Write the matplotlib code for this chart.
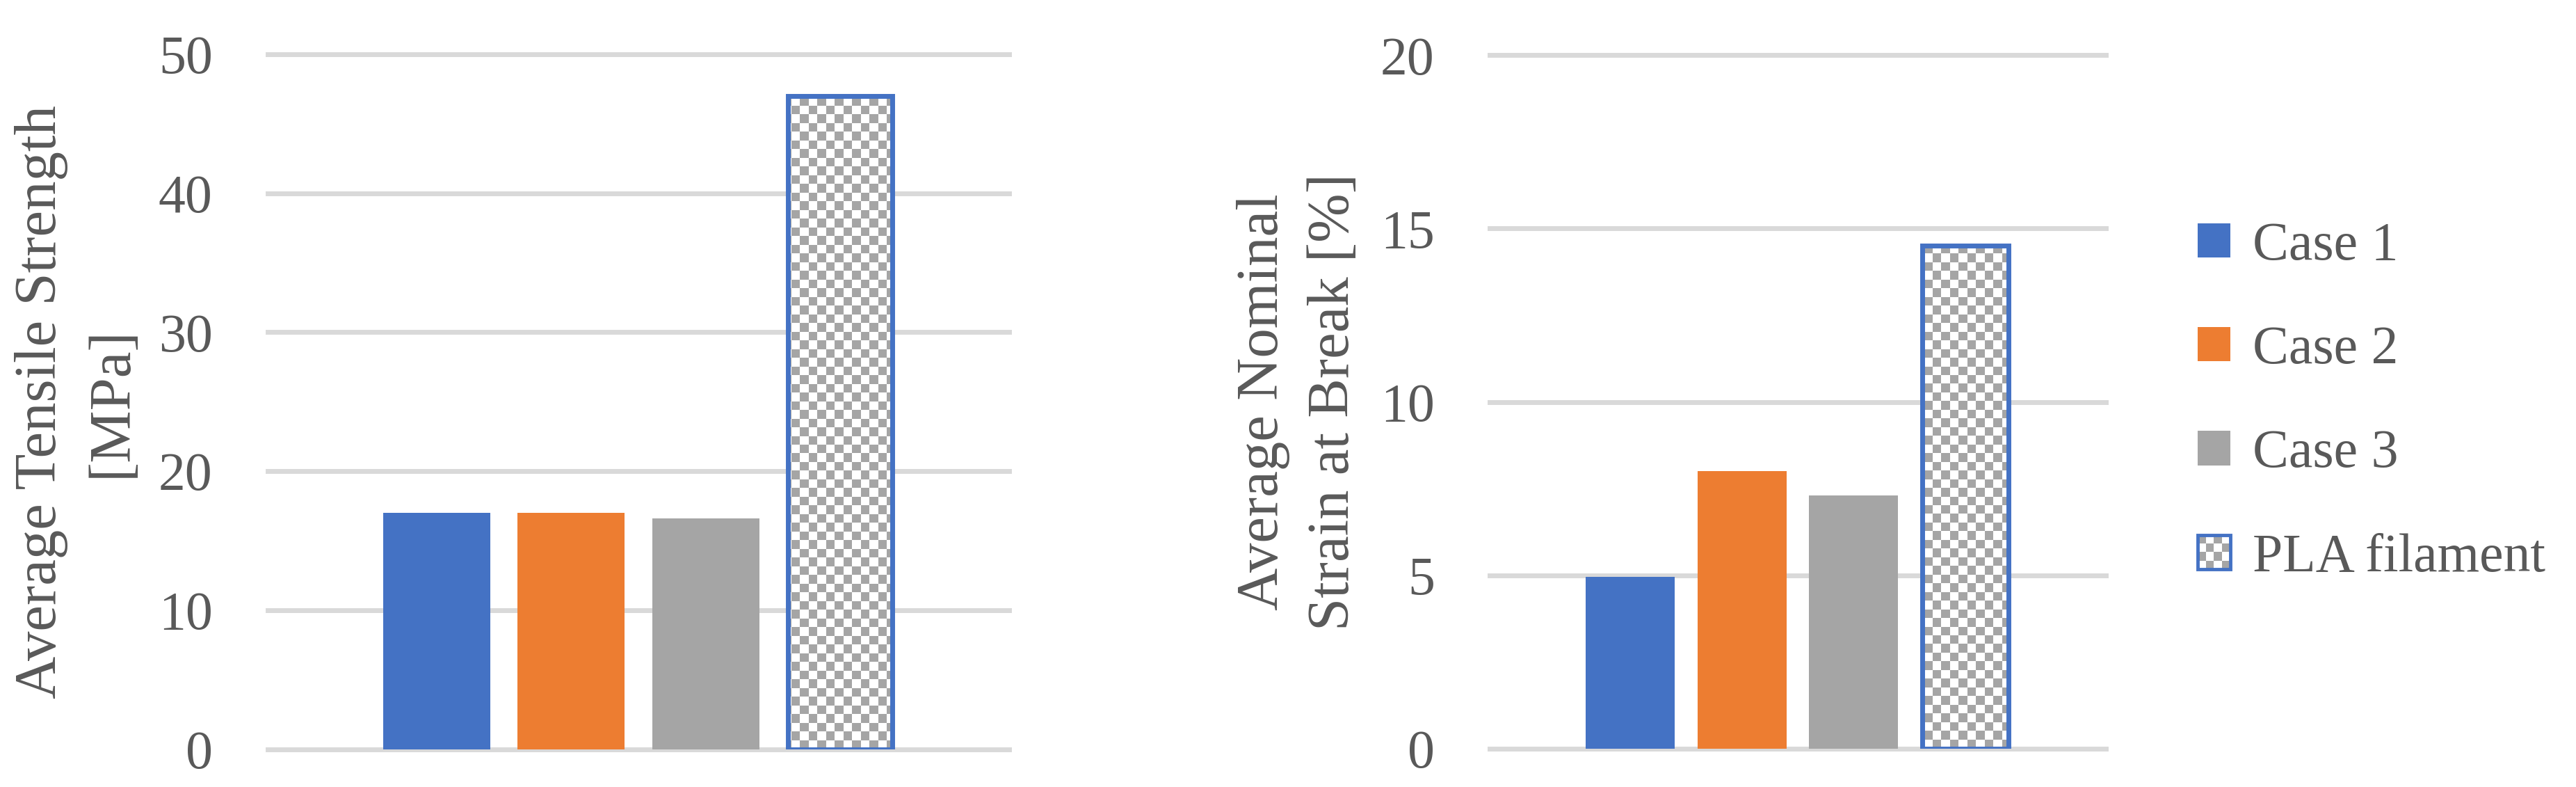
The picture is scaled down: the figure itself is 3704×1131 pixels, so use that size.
import numpy as np
import matplotlib
matplotlib.use("Agg")
import matplotlib.pyplot as plt
from matplotlib.patches import Patch, Rectangle
from matplotlib.colors import ListedColormap
from matplotlib.legend_handler import HandlerBase

# ---------------- data ----------------
series = ["Case 1", "Case 2", "Case 3", "PLA filament"]
tensile_strength = [17.0, 17.0, 16.6, 47.0]     # MPa
strain_at_break = [4.95, 8.0, 7.3, 14.5]        # %
tensile_ticks = [0, 10, 20, 30, 40, 50]
strain_ticks = [0, 5, 10, 15, 20]
ylabel_left = "Average Tensile Strength\n[MPa]"
ylabel_right = "Average Nominal\nStrain at Break [%]"

# ---------------- style ----------------
colors = ["#4472C4", "#ED7D31", "#A5A5A5"]
pla_edge = "#4472C4"
checker_gray = "#A5A5A5"
text_color = "#595959"
grid_color = "#D9D9D9"
FONT = "Liberation Serif"
FS = 56
FS_TITLE = 61

W, H = 3705, 1131
fig = plt.figure(figsize=(W / 100, H / 100), dpi=100)
fig.patch.set_facecolor("white")

ax1 = fig.add_axes([385 / W, 54.5 / H, 1066 / W, 998.5 / H])
ax2 = fig.add_axes([2142 / W, 55.5 / H, 886 / W, 996 / H])

bar_w = 0.1445
pla_w = 0.1407
step = 0.1813
offsets = (np.arange(len(series)) - 1.5) * step
checker_px = 12.5


def draw_panel(ax, values, ticks, ylabel, ax_px):
    ax.set_xlim(-0.5, 0.5)
    ax.set_ylim(ticks[0], ticks[-1])
    for i in range(3):
        ax.bar(offsets[i], values[i], width=bar_w, color=colors[i],
               zorder=3, linewidth=0)
    # PLA bar: checkerboard fill clipped to the bar, blue border
    pla = ax.bar(offsets[3], values[3], width=pla_w, facecolor="none",
                 edgecolor=pla_edge, linewidth=5.0, zorder=5)[0]
    nx = int(round(ax_px[0] / checker_px))
    ny = int(round(ax_px[1] / checker_px))
    board = (np.add.outer(np.arange(ny), np.arange(nx)) % 2).astype(float)
    im = ax.imshow(board, cmap=ListedColormap(["white", checker_gray]),
                   extent=(-0.5, 0.5, ticks[0], ticks[-1]), aspect="auto",
                   interpolation="nearest", origin="lower", zorder=4)
    im.set_clip_path(pla)
    ax.set_xlim(-0.5, 0.5)
    ax.set_ylim(ticks[0], ticks[-1])

    ax.set_yticks(ticks)
    ax.set_yticklabels([str(t) for t in ticks])
    ax.set_xticks([])
    ax.yaxis.grid(True, color=grid_color, linewidth=5.0, zorder=0)
    ax.set_axisbelow(True)
    for gl in ax.get_ygridlines():
        gl.set_clip_on(False)
    for s in ax.spines.values():
        s.set_visible(False)
    ax.tick_params(axis="y", length=0, pad=57, labelsize=FS,
                   labelcolor=text_color)
    for lab in ax.get_yticklabels():
        lab.set_fontfamily(FONT)
    ax.set_ylabel(ylabel, fontsize=FS_TITLE, color=text_color, family=FONT,
                  linespacing=1.42, labelpad=20)


draw_panel(ax1, tensile_strength, tensile_ticks, ylabel_left, (1066, 998.5))
draw_panel(ax2, strain_at_break, strain_ticks, ylabel_right, (886, 996))


class CheckerHandler(HandlerBase):
    def create_artists(self, legend, orig_handle, xdescent, ydescent,
                       width, height, fontsize, trans):
        x0, y0 = -xdescent, -ydescent
        n = 4
        cw, ch = width / n, height / n
        arts = [Rectangle((x0, y0), width, height, facecolor="white",
                          edgecolor="none", transform=trans)]
        for i in range(n):
            for j in range(n):
                if (i + j) % 2:
                    arts.append(Rectangle((x0 + i * cw, y0 + j * ch), cw, ch,
                                          facecolor=checker_gray,
                                          edgecolor="none", transform=trans))
        arts.append(Rectangle((x0, y0), width, height, facecolor="none",
                              edgecolor=pla_edge, linewidth=3.5,
                              transform=trans))
        return arts


handles = [Patch(facecolor=c, edgecolor="none") for c in colors]
pla_handle = Patch(facecolor="white", edgecolor=pla_edge)
handles.append(pla_handle)
leg = fig.legend(handles, series, loc="center left",
                 bbox_to_anchor=(3160 / W, 1 - 578 / H),
                 frameon=False, handlelength=0.6, handleheight=0.6,
                 handletextpad=0.42, labelspacing=1.0, borderpad=0,
                 borderaxespad=0, prop={"family": FONT, "size": FS},
                 labelcolor=text_color,
                 handler_map={pla_handle: CheckerHandler()})

fig.savefig("out.png", dpi=100, facecolor="white")
